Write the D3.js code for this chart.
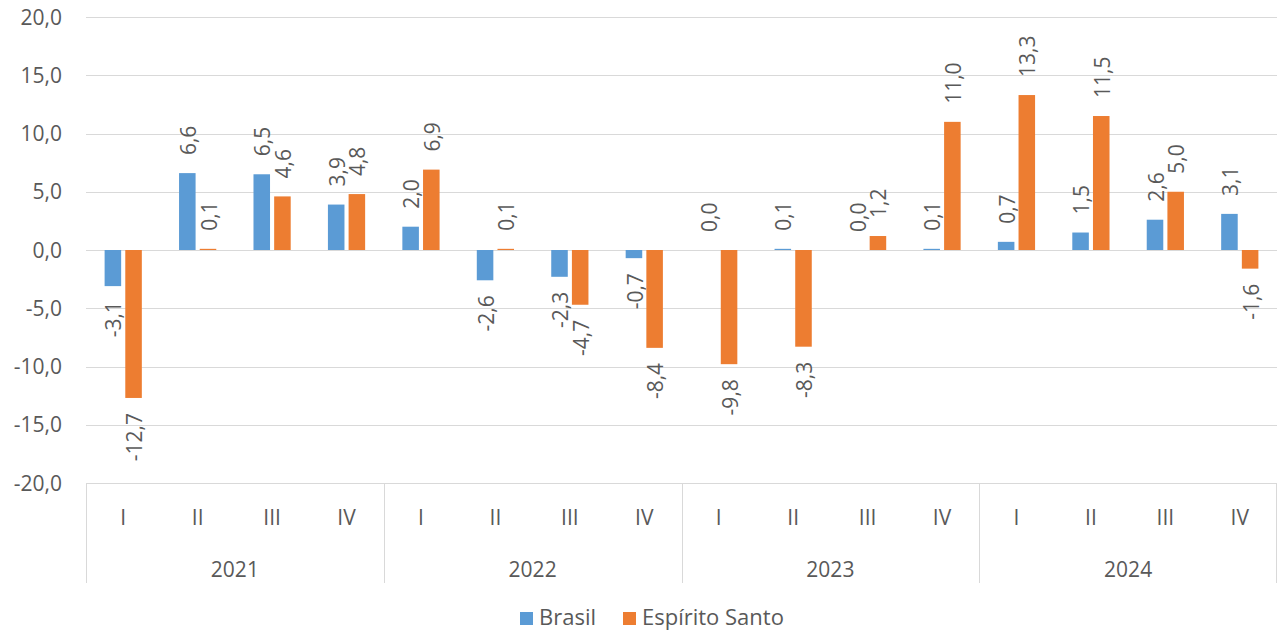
<!DOCTYPE html>
<html>
<head>
<meta charset="utf-8">
<script src="https://cdn.jsdelivr.net/npm/d3@7"></script>
<style>
  body { margin: 0; background: #fff; }
  svg { display: block; font-family: "Open Sans", "Noto Sans", sans-serif; }
</style>
</head>
<body>
<svg id="chart" width="1277" height="631"></svg>
<script>
// data
const years = ["2021", "2022", "2023", "2024"];
const quarters = ["I", "II", "III", "IV"];
const seriesNames = ["Brasil", "Espírito Santo"];
const brasil = [-3.1, 6.6, 6.5, 3.9, 2.0, -2.6, -2.3, -0.7, 0.0, 0.1, 0.0, 0.1, 0.7, 1.5, 2.6, 3.1];
const espiritoSanto = [-12.7, 0.1, 4.6, 4.8, 6.9, 0.1, -4.7, -8.4, -9.8, -8.3, 1.2, 11.0, 13.3, 11.5, 5.0, -1.6];
const yTicks = [-20, -15, -10, -5, 0, 5, 10, 15, 20];

const colors = ["#5B9BD5", "#ED7D31"];
const textColor = "#595959";
const gridColor = "#d9d9d9";

const plotLeft = 86, plotRight = 1277, plotTop = 17, plotBottom = 483;

const svg = d3.select("#chart");

// one slot per year/quarter
const slots = [];
years.forEach(yr => quarters.forEach(q => slots.push(yr + "-" + q)));

const x = d3.scaleBand().domain(slots).range([plotLeft, plotRight]).padding(0);
const xInner = d3.scaleBand().domain(seriesNames).range([0, x.bandwidth()])
  .paddingInner(0.2).paddingOuter(0.9);
const y = d3.scaleLinear().domain([-20, 20]).range([plotBottom, plotTop]);

const fmt = v => d3.format(".1f")(v).replace(".", ",").replace("−", "-");

// gridlines
svg.append("g")
  .selectAll("line")
  .data(yTicks)
  .join("line")
    .attr("x1", plotLeft)
    .attr("x2", plotRight)
    .attr("y1", d => Math.round(y(d)) + 0.5)
    .attr("y2", d => Math.round(y(d)) + 0.5)
    .attr("stroke", gridColor)
    .attr("stroke-width", 1);

// y tick labels
svg.append("g")
  .selectAll("text")
  .data(yTicks)
  .join("text")
    .attr("x", 62)
    .attr("y", d => y(d))
    .attr("dy", "0.36em")
    .attr("text-anchor", "end")
    .attr("font-size", 21)
    .attr("fill", textColor)
    .text(d => fmt(d));

// year separators on the category axis
const yearEdges = years.map(yr => x(yr + "-I")).concat([plotRight - 1]);
svg.append("g")
  .selectAll("line")
  .data(yearEdges)
  .join("line")
    .attr("x1", d => Math.round(d) + 0.5)
    .attr("x2", d => Math.round(d) + 0.5)
    .attr("y1", plotBottom)
    .attr("y2", 583)
    .attr("stroke", gridColor);

// quarter labels
svg.append("g")
  .selectAll("text")
  .data(slots)
  .join("text")
    .attr("x", d => x(d) + x.bandwidth() / 2)
    .attr("y", 525)
    .attr("text-anchor", "middle")
    .attr("font-size", 21)
    .attr("fill", textColor)
    .text(d => d.split("-")[1]);

// year labels
svg.append("g")
  .selectAll("text")
  .data(years)
  .join("text")
    .attr("x", d => x(d + "-I") + x.bandwidth() * 2)
    .attr("y", 577)
    .attr("text-anchor", "middle")
    .attr("font-size", 21)
    .attr("fill", textColor)
    .text(d => d);

// bars + labels
const allSeries = [brasil, espiritoSanto];
allSeries.forEach((values, si) => {
  const name = seriesNames[si];
  const g = svg.append("g").attr("class", "series-" + si);

  g.selectAll("rect")
    .data(values)
    .join("rect")
      .attr("x", (d, i) => x(slots[i]) + xInner(name))
      .attr("width", xInner.bandwidth())
      .attr("y", d => y(Math.max(0, d)))
      .attr("height", d => Math.abs(y(d) - y(0)))
      .attr("fill", colors[si]);

  g.selectAll("text")
    .data(values)
    .join("text")
      .attr("transform", (d, i) => {
        const cx = x(slots[i]) + xInner(name) + xInner.bandwidth() / 2 + 1;
        const cy = d >= 0 ? y(d) - 18 : y(d) + 15;
        return `translate(${cx},${cy}) rotate(-90)`;
      })
      .attr("dy", "0.36em")
      .attr("text-anchor", d => d >= 0 ? "start" : "end")
      .attr("font-size", 21)
      .attr("fill", textColor)
      .text(d => fmt(d));
});

// legend
const legend = svg.append("g").attr("transform", "translate(520,612)");
const legendX = [0, 103];
seriesNames.forEach((name, i) => {
  const item = legend.append("g").attr("transform", `translate(${legendX[i]},0)`);
  item.append("rect")
    .attr("width", 13)
    .attr("height", 13)
    .attr("fill", colors[i]);
  item.append("text")
    .attr("x", 19)
    .attr("y", 13)
    .attr("font-size", 22)
    .attr("fill", textColor)
    .text(name);
});
</script>
</body>
</html>
